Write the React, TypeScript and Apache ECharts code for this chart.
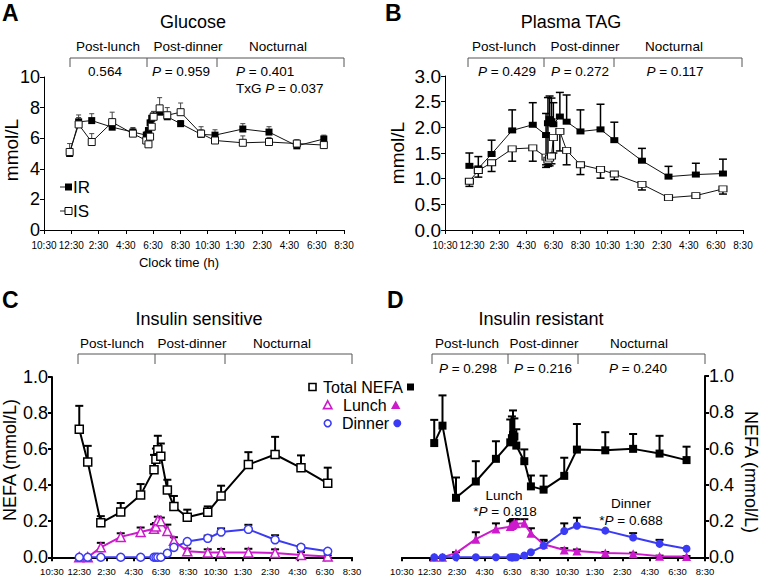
import React, { useEffect, useRef } from "react";
import * as echarts from "echarts";

const FONT = "'Liberation Sans', Arial, Helvetica, sans-serif";
const MAGENTA = "#cc1acc";
const BLUE = "#3b3bf5";

const timeLabels = ["10:30", "12:30", "2:30", "4:30", "6:30", "8:30", "10:30", "1:30", "2:30", "4:30", "6:30", "8:30"];

// Panel A – Glucose (x = position in tick units)
const aX = [0.94, 1.27, 1.75, 2.5, 3.26, 3.75, 3.83, 3.89, 3.95, 4.02, 4.24, 4.52, 5.01, 5.76, 6.27, 7.29, 8.25, 9.27, 10.26];
const aIR = [5.0, 7.07, 7.15, 6.72, 6.4, 6.2, 6.5, 7.0, 7.3, 7.45, 7.7, 7.4, 6.95, 6.25, 6.2, 6.6, 6.4, 5.5, 5.95];
const aIRErr = [0.3, 0.45, 0.45, 0.2, 0.3, 0.25, 0.2, 0.2, 0.2, 0.3, 0.35, 0.3, 0.2, 0.3, 0.35, 0.35, 0.35, 0.2, 0.25];
const aIS = [5.1, 6.9, 5.75, 7.05, 6.3, 5.85, 5.6, 6.1, 6.75, 7.4, 7.95, 7.5, 7.7, 6.3, 5.85, 5.7, 5.75, 5.65, 5.55];
const aISErr = [0.55, 0.45, 0.55, 0.65, 0.35, 0.3, 0.3, 0.3, 0.3, 0.35, 0.7, 0.5, 0.6, 0.45, 0.3, 0.45, 0.3, 0.25, 0.3];

// Panel B – Plasma TAG
const bX = [0.9, 1.23, 1.72, 2.48, 3.24, 3.73, 3.8, 3.86, 3.93, 4.0, 4.24, 4.49, 5.0, 5.74, 6.25, 7.27, 8.25, 9.26, 10.26];
const bIR = [1.25, 1.2, 1.48, 1.94, 2.05, 1.85, 2.08, 2.16, 2.12, 2.06, 2.21, 2.11, 1.92, 1.96, 1.75, 1.35, 1.04, 1.08, 1.1];
const bIRErrUp = [0.25, 0.23, 0.27, 0.4, 0.43, 0.42, 0.5, 0.45, 0.45, 0.42, 0.47, 0.52, 0.42, 0.49, 0.35, 0.24, 0.2, 0.22, 0.28];
const bIRErrDown = [0, 0, 0, 0, 0, 0.63, 0.8, 0, 0, 0, 0, 0, 0, 0, 0, 0, 0, 0, 0];
const bIS = [0.95, 1.16, 1.31, 1.58, 1.6, 1.42, 1.36, 1.4, 1.44, 1.8, 1.92, 1.55, 1.27, 1.18, 1.09, 0.89, 0.63, 0.67, 0.8];
const bISErr = [0.1, 0.13, 0.17, 0.24, 0.26, 0.15, 0.12, 0.15, 0.15, 0.3, 0.38, 0.28, 0.19, 0.17, 0.11, 0.11, 0.03, 0.04, 0.1];

// Panel C – Insulin sensitive NEFA
const cX = [1.0, 1.31, 1.79, 2.52, 3.25, 3.74, 3.81, 3.88, 3.99, 4.23, 4.47, 4.96, 5.71, 6.2, 7.2, 8.18, 9.13, 10.11];
const cTotal = [0.71, 0.528, 0.191, 0.251, 0.346, 0.486, 0.543, 0.596, 0.561, 0.373, 0.282, 0.222, 0.25, 0.34, 0.514, 0.57, 0.496, 0.41];
const cTotalErr = [0.13, 0.09, 0.037, 0.05, 0.06, 0.082, 0.06, 0.078, 0.07, 0.057, 0.058, 0.042, 0.032, 0.057, 0.069, 0.098, 0.069, 0.087];
const cLunch = [0, 0, 0.055, 0.113, 0.14, 0.158, 0.17, 0.205, 0.2, 0.146, 0.091, 0.033, 0.026, 0.026, 0.027, 0.024, 0.013, 0.004];
const cLunchErr = [0, 0, 0.025, 0.02, 0.025, 0.025, 0.02, 0.02, 0.02, 0.035, 0.02, 0.015, 0.018, 0.02, 0.02, 0.02, 0.015, 0.006];
const cDinner = [0, 0, 0, 0, 0, 0, 0, 0, 0, 0.022, 0.055, 0.087, 0.105, 0.14, 0.155, 0.097, 0.055, 0.033];
const cDinnerErr = [0, 0, 0, 0, 0, 0, 0, 0, 0, 0, 0, 0, 0.015, 0.02, 0.025, 0.025, 0.01, 0.006];

// Panel D – Insulin resistant NEFA
const dX = [1.17, 1.47, 1.96, 2.68, 3.41, 3.93, 3.99, 4.03, 4.08, 4.15, 4.44, 4.68, 5.14, 5.89, 6.35, 7.38, 8.39, 9.35, 10.33];
const dTotal = [0.63, 0.726, 0.328, 0.418, 0.543, 0.634, 0.657, 0.675, 0.666, 0.616, 0.53, 0.391, 0.373, 0.449, 0.594, 0.59, 0.598, 0.572, 0.536];
const dTotalErr = [0.128, 0.167, 0.112, 0.112, 0.097, 0.126, 0.12, 0.135, 0.1, 0.09, 0.065, 0.06, 0.077, 0.1, 0.141, 0.1, 0.082, 0.098, 0.074];
const dLunch = [0, 0, 0.023, 0.1, 0.156, 0.169, 0.175, 0.18, 0.19, 0.185, 0.187, 0.132, 0.072, 0.04, 0.035, 0.024, 0.02, 0.005, 0.004];
const dLunchErr = [0, 0, 0.005, 0.038, 0.031, 0.03, 0.03, 0.03, 0.02, 0.025, 0.023, 0.028, 0.018, 0.01, 0.008, 0.005, 0.005, 0.004, 0.003];
const dDinner = [0, 0, 0, 0, 0, 0, 0, 0, 0, 0, 0.01, 0.028, 0.063, 0.145, 0.174, 0.147, 0.109, 0.074, 0.047];
const dDinnerErr = [0, 0, 0, 0, 0, 0, 0, 0, 0, 0, 0, 0, 0.033, 0.042, 0.044, 0.0, 0.024, 0.022, 0.0];

const pairs = (xs: number[], ys: number[]) => xs.map((x, i) => [x, ys[i]]);
const errData = (xs: number[], ys: number[], es: number[], dir: number) =>
  xs.map((x, i) => [x, ys[i], ys[i] + dir * es[i]]).filter((_, i) => es[i] > 0);

function errorSeries(data: number[][], idx: number, color: string, lw: number, cap: number) {
  return {
    type: "custom",
    xAxisIndex: idx,
    yAxisIndex: idx,
    data,
    z: 1,
    silent: true,
    encode: { x: 0, y: [1, 2] },
    renderItem: (_params: any, api: any) => {
      const p0 = api.coord([api.value(0), api.value(1)]);
      const p1 = api.coord([api.value(0), api.value(2)]);
      return {
        type: "group",
        children: [
          { type: "line", shape: { x1: p0[0], y1: p0[1], x2: p1[0], y2: p1[1] }, style: { stroke: color, lineWidth: lw } },
          { type: "line", shape: { x1: p1[0] - cap, y1: p1[1], x2: p1[0] + cap, y2: p1[1] }, style: { stroke: color, lineWidth: lw } },
        ],
      };
    },
  };
}

function lineSeries(name: string, data: number[][], idx: number, o: any) {
  return {
    type: "line",
    name,
    xAxisIndex: idx,
    yAxisIndex: idx,
    data,
    z: 3,
    symbol: o.symbol,
    symbolSize: o.size,
    showAllSymbol: true,
    itemStyle: { color: o.fill, borderColor: o.color, borderWidth: o.bw, opacity: 1 },
    lineStyle: { color: o.color, width: o.lw },
    emphasis: { disabled: true },
  };
}

function xAx(idx: number, fs: number, lw: number, margin: number) {
  return {
    type: "value",
    gridIndex: idx,
    min: 0,
    max: 11,
    interval: 1,
    axisLine: { show: true, onZero: false, lineStyle: { color: "#000", width: lw } },
    axisTick: { show: true, length: 4, lineStyle: { color: "#000", width: lw } },
    axisLabel: {
      formatter: (v: number) => timeLabels[Math.round(v)] ?? "",
      fontSize: fs,
      lineHeight: fs,
      color: "#000",
      fontFamily: FONT,
      margin,
      hideOverlap: false,
    },
    splitLine: { show: false },
  };
}

function yAx(idx: number, max: number, interval: number, fs: number, lw: number, dec: number, pos: string) {
  return {
    type: "value",
    gridIndex: idx,
    position: pos,
    min: 0,
    max,
    interval,
    axisLine: { show: true, onZero: false, lineStyle: { color: "#000", width: lw } },
    axisTick: { show: true, length: 4, lineStyle: { color: "#000", width: lw } },
    axisLabel: { formatter: (v: number) => v.toFixed(dec), fontSize: fs, lineHeight: Math.round(fs * 0.72), color: "#000", fontFamily: FONT, margin: 4 },
    splitLine: { show: false },
  };
}

const txt = (x: number, y: number, text: string, size: number, extra: any = {}, rotation = 0) => ({
  type: "text",
  x,
  y,
  rotation,
  silent: true,
  style: { text, fontSize: size, fontFamily: FONT, fill: "#000", align: "center", verticalAlign: "middle", ...extra },
});

const ptxt = (x: number, y: number, text: string, size: number, align = "center") => ({
  type: "text",
  x,
  y,
  silent: true,
  style: {
    text,
    fontSize: size,
    fontFamily: FONT,
    fill: "#000",
    align,
    verticalAlign: "middle",
    rich: {
      i: { fontStyle: "italic", fontSize: size, fontFamily: FONT, fill: "#000" },
      n: { fontSize: size, fontFamily: FONT, fill: "#000" },
    },
  },
});

function bracket(x0: number, x1: number, x2: number, x3: number, y: number, h: number) {
  const st = { stroke: "#555", lineWidth: 1, fill: null };
  return [
    { type: "polyline", silent: true, shape: { points: [[x0, y + h], [x0, y], [x3, y], [x3, y + h]] }, style: st },
    { type: "line", silent: true, shape: { x1: x1, y1: y, x2: x1, y2: y + h }, style: st },
    { type: "line", silent: true, shape: { x1: x2, y1: y, x2: x2, y2: y + h }, style: st },
  ];
}

function buildOption() {
  const BR = 13.5;
  const graphic: any[] = [
    // panel letters
    txt(2, 13, "A", 23, { fontWeight: "bold", align: "left" }),
    txt(385, 13, "B", 23, { fontWeight: "bold", align: "left" }),
    txt(2, 300, "C", 23, { fontWeight: "bold", align: "left" }),
    txt(387, 300, "D", 23, { fontWeight: "bold", align: "left" }),
    // titles
    txt(193, 22, "Glucose", 18),
    txt(571, 22, "Plasma TAG", 18),
    txt(199, 319, "Insulin sensitive", 18),
    txt(541, 319, "Insulin resistant", 18),
    // brackets
    ...bracket(70, 147, 217, 344, 58, 9),
    ...bracket(468, 544, 614, 742, 58, 9),
    ...bracket(78, 155, 225, 352, 354, 10),
    ...bracket(432, 508, 578, 705, 354, 10),
    txt(108, 46, "Post-lunch", BR), txt(188, 46, "Post-dinner", BR), txt(278, 46, "Nocturnal", BR),
    txt(504, 46, "Post-lunch", BR), txt(585, 46, "Post-dinner", BR), txt(674, 46, "Nocturnal", BR),
    txt(112, 343, "Post-lunch", BR), txt(192, 343, "Post-dinner", BR), txt(282, 343, "Nocturnal", BR),
    txt(467, 343, "Post-lunch", BR), txt(544, 343, "Post-dinner", BR), txt(639, 343, "Nocturnal", BR),
    // P values
    txt(105, 71, "0.564", BR),
    ptxt(181, 71, "{i|P}{n| = 0.959}", BR),
    ptxt(236, 71, "{i|P}{n| = 0.401}", BR, "left"),
    ptxt(236, 88, "{n|TxG }{i|P}{n| = 0.037}", BR, "left"),
    ptxt(507, 71, "{i|P}{n| = 0.429}", BR),
    ptxt(580, 71, "{i|P}{n| = 0.272}", BR),
    ptxt(675, 71, "{i|P}{n| = 0.117}", BR),
    ptxt(468, 368, "{i|P}{n| = 0.298}", BR),
    ptxt(543, 368, "{i|P}{n| = 0.216}", BR),
    ptxt(638, 368, "{i|P}{n| = 0.240}", BR),
    txt(504, 495, "Lunch", BR),
    ptxt(505, 511, "{n|*}{i|P}{n| = 0.818}", BR),
    txt(631, 503, "Dinner", BR),
    ptxt(631, 520, "{n|*}{i|P}{n| = 0.688}", BR),
    // axis names
    txt(11, 150, "mmol/L", 19, {}, Math.PI / 2),
    txt(397, 153, "mmol/L", 19, {}, Math.PI / 2),
    txt(10, 460, "NEFA (mmol/L)", 18, {}, Math.PI / 2),
    txt(751, 472, "NEFA (mmol/L)", 18, {}, -Math.PI / 2),
    txt(179, 262, "Clock time (h)", 13),
    // legend A
    { type: "line", silent: true, shape: { x1: 60, y1: 187, x2: 66, y2: 187 }, style: { stroke: "#222", lineWidth: 1 } },
    { type: "rect", silent: true, shape: { x: 65, y: 183.5, width: 7, height: 7 }, style: { fill: "#000" } },
    txt(73, 187, "IR", 17, { align: "left" }),
    { type: "line", silent: true, shape: { x1: 60, y1: 211, x2: 66, y2: 211 }, style: { stroke: "#222", lineWidth: 1 } },
    { type: "rect", silent: true, shape: { x: 65, y: 207.5, width: 7, height: 7 }, style: { fill: "#fff", stroke: "#000", lineWidth: 1 } },
    txt(73, 211, "IS", 17, { align: "left" }),
    // legend C/D
    { type: "rect", silent: true, shape: { x: 309, y: 383.5, width: 7, height: 7 }, style: { fill: "#fff", stroke: "#000", lineWidth: 1.6 } },
    txt(323, 387, "Total NEFA", 16, { align: "left" }),
    { type: "rect", silent: true, shape: { x: 407, y: 383.5, width: 7, height: 7 }, style: { fill: "#000" } },
    { type: "polygon", silent: true, shape: { points: [[327.7, 400.8], [331.9, 408.6], [323.5, 408.6]] }, style: { fill: "#fff", stroke: MAGENTA, lineWidth: 1.6 } },
    txt(343, 405, "Lunch", 16, { align: "left" }),
    { type: "polygon", silent: true, shape: { points: [[395.7, 400.5], [400.4, 409], [391, 409]] }, style: { fill: MAGENTA } },
    { type: "circle", silent: true, shape: { cx: 327.7, cy: 423.3, r: 3.4 }, style: { fill: "#fff", stroke: BLUE, lineWidth: 1.6 } },
    txt(342, 423.3, "Dinner", 16, { align: "left" }),
    { type: "circle", silent: true, shape: { cx: 397.3, cy: 423.3, r: 4 }, style: { fill: BLUE } },
  ];

  const sqOpen = { symbol: "rect", fill: "#fff", color: "#111", bw: 1, lw: 1 };
  const sqFill = { symbol: "rect", fill: "#000", color: "#111", bw: 0, lw: 1 };

  const series: any[] = [
    // A
    errorSeries(errData(aX, aIR, aIRErr, 1), 0, "#444", 1, 2.5),
    errorSeries(errData(aX, aIS, aISErr, 1), 0, "#444", 1, 2.5),
    lineSeries("IR", pairs(aX, aIR), 0, { ...sqFill, size: 7 }),
    lineSeries("IS", pairs(aX, aIS), 0, { ...sqOpen, size: 7 }),
    // B
    errorSeries(errData(bX, bIR, bIRErrUp, 1), 1, "#000", 1.5, 4),
    errorSeries(errData(bX, bIR, bIRErrDown, -1), 1, "#000", 1.5, 4),
    errorSeries(errData(bX, bIS, bISErr, -1), 1, "#000", 1.5, 4),
    lineSeries("IR", pairs(bX, bIR), 1, { ...sqFill, size: [8, 6] }),
    lineSeries("IS", pairs(bX, bIS), 1, { ...sqOpen, size: [8, 6] }),
    // C
    errorSeries(errData(cX, cTotal, cTotalErr, 1), 2, "#000", 2, 4),
    errorSeries(errData(cX, cLunch, cLunchErr, 1), 2, "#000", 2, 4),
    errorSeries(errData(cX, cDinner, cDinnerErr, 1), 2, "#000", 2, 4),
    lineSeries("Lunch", pairs(cX, cLunch), 2, { symbol: "triangle", size: 9, fill: "#fff", color: MAGENTA, bw: 1.5, lw: 2 }),
    lineSeries("Dinner", pairs(cX, cDinner), 2, { symbol: "circle", size: 8, fill: "#fff", color: BLUE, bw: 1.5, lw: 2 }),
    lineSeries("Total NEFA", pairs(cX, cTotal), 2, { symbol: "rect", size: 8, fill: "#fff", color: "#000", bw: 1.5, lw: 2 }),
    // D
    errorSeries(errData(dX, dTotal, dTotalErr, 1), 3, "#000", 2, 4),
    errorSeries(errData(dX, dLunch, dLunchErr, 1), 3, "#000", 2, 4),
    errorSeries(errData(dX, dDinner, dDinnerErr, 1), 3, "#000", 2, 4),
    lineSeries("Lunch", pairs(dX, dLunch), 3, { symbol: "triangle", size: 9, fill: MAGENTA, color: MAGENTA, bw: 0, lw: 2 }),
    lineSeries("Dinner", pairs(dX, dDinner), 3, { symbol: "circle", size: 8, fill: BLUE, color: BLUE, bw: 0, lw: 2 }),
    lineSeries("Total NEFA", pairs(dX, dTotal), 3, { symbol: "rect", size: 8, fill: "#000", color: "#000", bw: 0, lw: 2 }),
  ];

  return {
    animation: false,
    backgroundColor: "#fff",
    textStyle: { fontFamily: FONT },
    grid: [
      { left: 44, top: 77, width: 300, height: 153 },
      { left: 445, top: 76, width: 298, height: 154 },
      { left: 52, top: 377, width: 300, height: 183 },
      { left: 402, top: 376, width: 303, height: 183 },
    ],
    xAxis: [xAx(0, 10, 1, 10), xAx(1, 10, 1, 10), xAx(2, 9.5, 2, 9), xAx(3, 9.5, 2, 9)],
    yAxis: [
      yAx(0, 10, 2, 18, 1, 0, "left"),
      yAx(1, 3, 0.5, 19, 1, 1, "left"),
      yAx(2, 1, 0.2, 18, 2, 1, "left"),
      yAx(3, 1, 0.2, 18, 2, 1, "right"),
    ],
    series,
    graphic,
  };
}

export default function App() {
  const ref = useRef<HTMLDivElement>(null);
  useEffect(() => {
    if (!ref.current) return;
    const chart = echarts.init(ref.current, undefined, { renderer: "svg" });
    chart.setOption(buildOption() as any);
    return () => chart.dispose();
  }, []);
  return <div ref={ref} style={{ position: "absolute", left: 0, top: 0, width: 761, height: 576, background: "#fff" }} />;
}
